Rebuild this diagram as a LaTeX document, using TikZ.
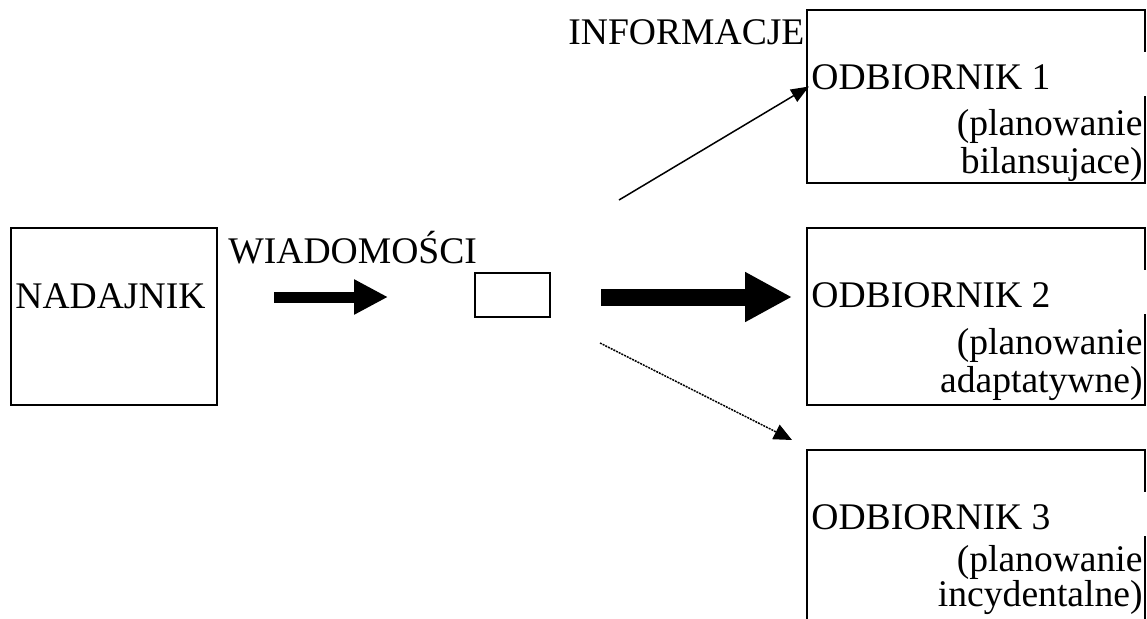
\documentclass[tikz,border=0pt]{standalone}
\usepackage{fontspec}
\setmainfont{Liberation Serif}
\usetikzlibrary{arrows.meta,positioning}

\begin{document}
\begin{tikzpicture}[x=0.5pt,y=-0.5pt,
    box/.style={rectangle,draw,line width=1pt,inner sep=0pt,
                minimum width=169pt,minimum height=88.5pt},
    lbl/.style={inner sep=0pt,font=\fontsize{18.8}{22}\selectfont},
    gap/.style={draw=white,line width=1.8pt}]
  \useasboundingbox (0,0) rectangle (1147,618);
  \clip (0,0) rectangle (1147,618);
  % nadajnik and messages
  \node[box,minimum width=103pt] (nad) at (114,316.5) {};
  \node[lbl,anchor=base west] (nadtxt) at (15,308) {NADAJNIK};
  \node[lbl,anchor=base west] (wiad) at (228,263) {WIADOMOŚCI};
  \node[box,minimum width=37.5pt,minimum height=22pt] (sq) at (512.5,295) {};
  \node[lbl,anchor=base west] (info) at (568,44) {INFORMACJE};
  % odbiorniki
  \node[box,minimum height=86.5pt] (b1) at (976,96.5) {};
  \node[box] (b2) at (976,316.5) {};
  \node[box] (b3) at (976,538.5) {};
  \foreach \b in {b1,b2,b3}
    \draw[gap] ([yshift=-21.5pt]\b.north east) -- ([yshift=-43.5pt]\b.north east);
  \node[lbl,anchor=base west] (o1) at ([xshift=2.5pt,yshift=-40pt]b1.north west) {ODBIORNIK 1};
  \node[lbl,anchor=base east] (p1) at ([xshift=-1.5pt,yshift=-63pt]b1.north east) {(planowanie};
  \node[lbl,anchor=base east] (t1) at ([xshift=-1.5pt,yshift=-82pt]b1.north east) {bilansujace)};
  \node[lbl,anchor=base west] (o2) at ([xshift=2.5pt,yshift=-40pt]b2.north west) {ODBIORNIK 2};
  \node[lbl,anchor=base east] (p2) at ([xshift=-1.5pt,yshift=-63.5pt]b2.north east) {(planowanie};
  \node[lbl,anchor=base east] (t2) at ([xshift=-1.5pt,yshift=-82.5pt]b2.north east) {adaptatywne)};
  \node[lbl,anchor=base west] (o3) at ([xshift=2.5pt,yshift=-40pt]b3.north west) {ODBIORNIK 3};
  \node[lbl,anchor=base east] (p3) at ([xshift=-1.5pt,yshift=-61pt]b3.north east) {(planowanie};
  \node[lbl,anchor=base east] (t3) at ([xshift=-1.5pt,yshift=-78.5pt]b3.north east) {incydentalne)};
  % arrows
  \coordinate (w1) at (274,297);
  \coordinate (w2) at (388,297);
  \coordinate (s2) at (601,297);
  \coordinate (e2) at (792,297);
  \coordinate (s1) at (619,200);
  \coordinate (s3) at (600,343);
  \coordinate (e3) at (792,440);
  \draw[line width=5.5pt,-{Triangle[length=17pt,width=16.5pt]}] (w1) -- (w2);
  \draw[line width=8.5pt,-{Triangle[length=23.5pt,width=23.5pt]}] (s2) -- (e2);
  \draw[line width=0.75pt,-{Triangle[length=9pt,width=7pt]}] (s1) -- ([xshift=1.5pt,yshift=5pt]b1.west);
  \draw[line width=0.75pt,dash pattern=on 1pt off 0.5pt,-{Triangle[length=9pt,width=8pt]}] (s3) -- (e3);
\end{tikzpicture}
\end{document}
